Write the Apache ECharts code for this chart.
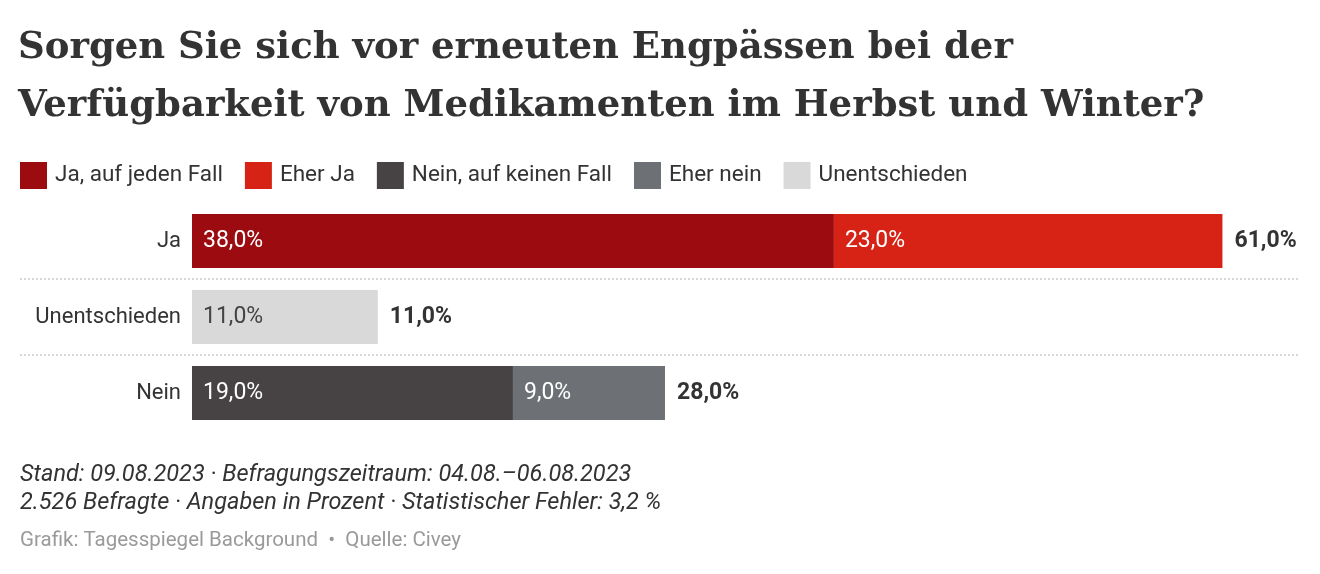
<!DOCTYPE html>
<html>
<head>
<meta charset="utf-8">
<script src="https://cdn.jsdelivr.net/npm/echarts@6/dist/echarts.min.js"></script>
<style>
html,body{margin:0;padding:0;background:#fff;}
#chart{width:1320px;height:574px;}
</style>
</head>
<body>
<div id="chart"></div>
<script>
const categories = ['Ja', 'Unentschieden', 'Nein'];
const seriesNames = ['Ja, auf jeden Fall', 'Eher Ja', 'Nein, auf keinen Fall', 'Eher nein', 'Unentschieden'];
const jaAufJedenFall = [38, null, null];
const eherJa = [23, null, null];
const neinAufKeinenFall = [null, null, 19];
const eherNein = [null, null, 9];
const unentschieden = [null, 11, null];
const colors = ['#9B0B10', '#D72316', '#474344', '#6D7175', '#D9D9D9'];
const labelColors = ['#ffffff', '#ffffff', '#ffffff', '#ffffff', '#444444'];

const seriesValues = [jaAufJedenFall, eherJa, neinAufKeinenFall, eherNein, unentschieden];
const totals = categories.map((c, i) => seriesValues.reduce((s, arr) => s + (arr[i] || 0), 0));

const fmt = v => v.toFixed(1).replace('.', ',') + '%';
const FONT = 'Roboto';

const chart = echarts.init(document.getElementById('chart'), null, {renderer: 'canvas'});

const GRID_TOP = 203, GRID_H = 228, GRID_LEFT = 192, GRID_RIGHT = 30;
const band = GRID_H / categories.length;

const series = [{
  name: '__total',
  type: 'bar',
  data: totals,
  barWidth: 54,
  barGap: '-100%',
  itemStyle: {color: 'rgba(0,0,0,0)'},
  label: {
    show: true, position: 'right', distance: 12,
    formatter: p => fmt(p.value),
    fontFamily: FONT, fontSize: 23, fontWeight: 'bold', color: '#333'
  },
  silent: true, z: 1
}];
seriesNames.forEach((n, i) => {
  series.push({
    name: n,
    type: 'bar',
    stack: 'all',
    data: seriesValues[i],
    barWidth: 54,
    itemStyle: {color: colors[i]},
    label: {
      show: true, position: 'insideLeft', distance: 11,
      formatter: p => p.value == null ? '' : fmt(p.value),
      fontFamily: FONT, fontSize: 23, color: labelColors[i]
    },
    z: 2
  });
});

const sepLines = [1, 2].map(k => ({
  type: 'line',
  shape: {x1: 20, y1: GRID_TOP + band * k, x2: 1298, y2: GRID_TOP + band * k},
  style: {stroke: '#cccccc', lineWidth: 1.5, lineDash: [2, 2]},
  z: 0
}));

chart.setOption({
  animation: false,
  backgroundColor: '#fff',
  title: [{
    text: 'Sorgen Sie sich vor erneuten Engpässen bei der\nVerfügbarkeit von Medikamenten im Herbst und Winter?',
    left: 18, top: 19, padding: 0,
    textStyle: {fontFamily: 'DejaVu Serif', fontWeight: 'bold', fontSize: 37, lineHeight: 58, color: '#333'}
  }, {
    text: 'Stand: 09.08.2023 · Befragungszeitraum: 04.08.–06.08.2023\n2.526 Befragte · Angaben in Prozent · Statistischer Fehler: 3,2 %',
    left: 20, top: 461, padding: 0,
    textStyle: {fontFamily: FONT, fontStyle: 'italic', fontWeight: 'normal', fontSize: 23.5, lineHeight: 28, color: '#333'}
  }, {
    text: 'Grafik: Tagesspiegel Background  •  Quelle: Civey',
    left: 20, top: 530, padding: 0,
    textStyle: {fontFamily: FONT, fontWeight: 'normal', fontSize: 20.5, color: '#9a9a9a'}
  }],
  legend: {
    data: seriesNames,
    left: 20, top: 162, padding: 0,
    itemWidth: 27, itemHeight: 27, itemGap: 22,
    icon: 'rect',
    textStyle: {fontFamily: FONT, fontSize: 22.5, color: '#333', padding: [0, 0, 0, 3]},
    selectedMode: false
  },
  grid: {left: GRID_LEFT, right: GRID_RIGHT, top: GRID_TOP, height: GRID_H, containLabel: false},
  xAxis: {type: 'value', min: 0, max: 65, show: false},
  yAxis: {
    type: 'category', data: categories, inverse: true,
    axisLine: {show: false}, axisTick: {show: false}, splitLine: {show: false},
    axisLabel: {fontFamily: FONT, fontSize: 22, color: '#333', margin: 11}
  },
  graphic: sepLines,
  series: series
});
</script>
</body>
</html>
